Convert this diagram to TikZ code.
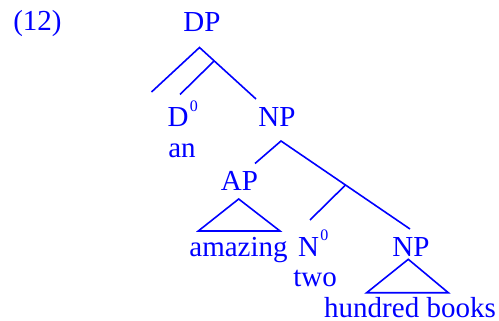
\documentclass[tikz,border=0pt]{standalone}
\usepackage{fontspec}
\setmainfont{Liberation Serif}
\usetikzlibrary{calc}
\definecolor{tblue}{RGB}{0,0,255}
\newcommand{\supzero}{\kern1.5pt\raisebox{15.5pt}{\fontsize{16}{16}\selectfont 0}}
\begin{document}
\begin{tikzpicture}[x=1pt,y=-1pt,
  lbl/.style={text=tblue, font=\fontsize{29}{32}\selectfont, inner sep=0pt, anchor=base},
  branch/.style={draw=tblue, line width=1.6pt}]
\useasboundingbox (0,0) rectangle (499,321);
% labels
\node[lbl] (ex) at (37.5,31) {(12)};
\node[lbl] (dp) at (202,32) {DP};
\node[lbl] (d0) at (178,127) {D\rlap{\supzero}};
\node[lbl] (an) at (182,158) {an};
\node[lbl] (np1) at (277,127) {NP};
\node[lbl] (ap) at (239.5,191) {AP};
\node[lbl] (amazing) at (238.5,256) {amazing};
\node[lbl] (n0) at (308.5,256) {N\rlap{\supzero}};
\node[lbl] (two) at (315,286) {two};
\node[lbl] (np2) at (411,256) {NP};
\node[lbl] (hb) at (410,317) {hundred books};
% DP branches
\coordinate (dpTop) at (199.5,47.5);
\coordinate (dpL) at (151.5,92);
\coordinate (dpR) at (256,99);
\coordinate (dpM) at ($(dpTop)!0.26!(dpR)$);
\coordinate (d0Top) at (180,94.5);
\draw[branch] (dpL) -- (dpTop) -- (dpR);
\draw[branch] (dpM) -- (d0Top);
% NP branches
\coordinate (npTop) at (281,141);
\coordinate (npL) at (255,163.5);
\coordinate (npR) at (410,229);
\coordinate (npM) at ($(npTop)!0.5!(npR)$);
\coordinate (n0Top) at (310,220);
\draw[branch] (npL) -- (npTop) -- (npR);
\draw[branch] (npM) -- (n0Top);
% AP triangle
\coordinate (apA) at (238.7,199);
\coordinate (apB) at (198.3,231);
\coordinate (apC) at (280,231);
\draw[branch] (apA) -- (apB) -- (apC) -- cycle;
% NP triangle
\coordinate (npA) at (408.3,259.3);
\coordinate (npB) at (366.7,292.7);
\coordinate (npC) at (448.3,292.7);
\draw[branch] (npA) -- (npB) -- (npC) -- cycle;
\end{tikzpicture}
\end{document}
